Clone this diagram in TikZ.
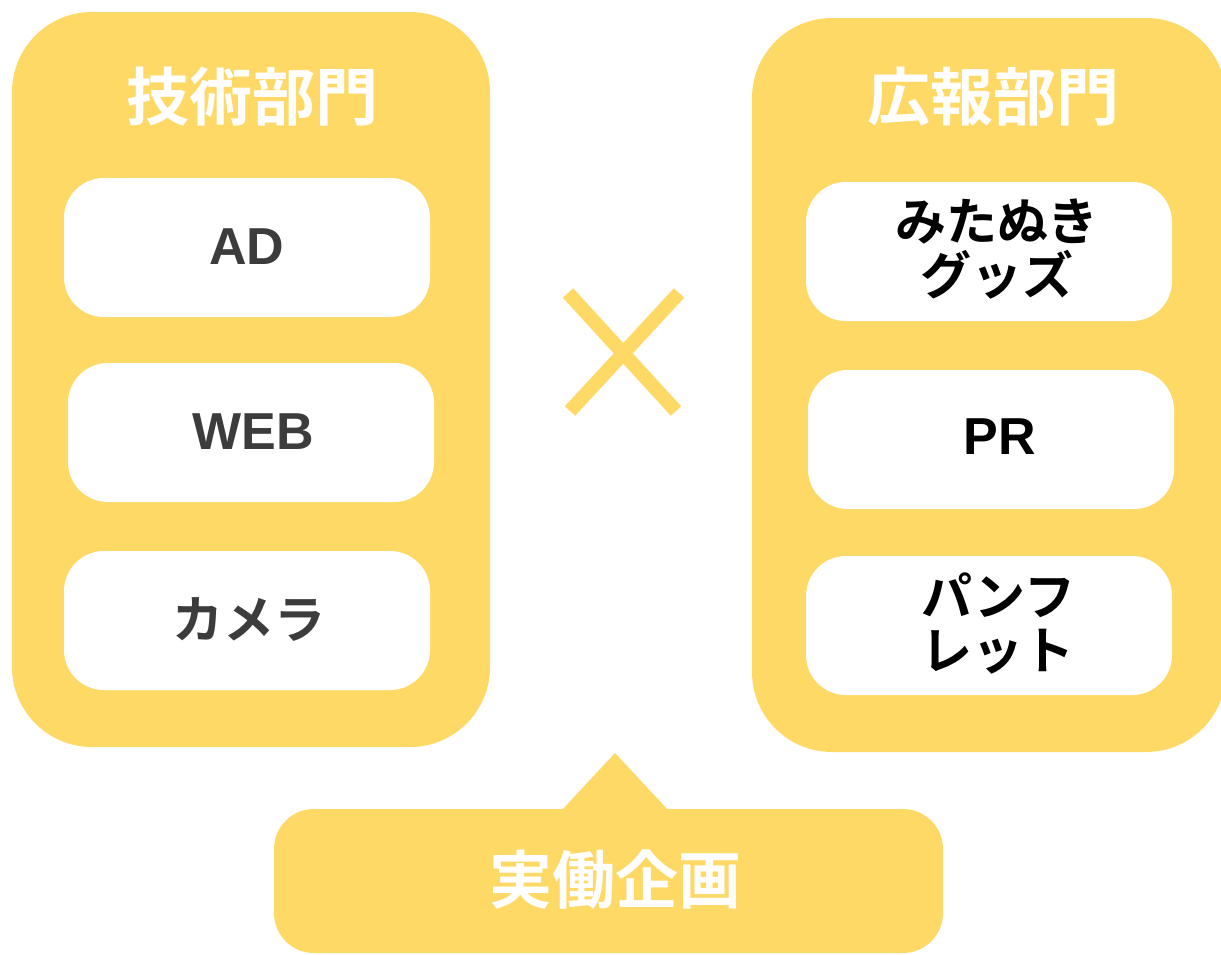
\documentclass[tikz,border=0pt]{standalone}
\usepackage{fontspec}
\setmainfont{Liberation Sans}
\newfontfamily\jp{Noto Sans CJK JP}[UprightFont=* Medium,BoldFont=* Bold]
\definecolor{BKzuta}{HTML}{FFD966}
\definecolor{BKsiva}{HTML}{3C3C3C}

\begin{document}
\begin{tikzpicture}[x=1pt,y=-1pt,font=\fontsize{52}{56}\selectfont\bfseries,
  naslov/.style={white,inner sep=0pt,font=\jp\fontsize{63}{66}\selectfont\bfseries},
  stavka/.style={inner sep=0pt,align=center,font=\jp\fontsize{51}{54}\selectfont\bfseries}]
\useasboundingbox (0,0) rectangle (1221,954);
\fill[BKzuta,rounded corners=80pt] (12,12) rectangle (490,747);
\fill[BKzuta,rounded corners=80pt] (752,18) rectangle (1226,752);
\fill[BKzuta,rounded corners=40pt] (274,809) rectangle (943,953);
\fill[BKzuta] (561,811)--(615,753)--(669,811)--cycle;
\draw[BKzuta,line width=14pt] (568,293)--(676,411) (679,293)--(570,411);
\foreach \x/\y in {64/178,68/363,64/551,806/182,808/370,806/556}{
 \fill[white,rounded corners=40pt] (\x,\y) rectangle ++(366,139);
}
\node[naslov] (tehnika) at (252,97) {技術部門};
\node[naslov] (odnosi) at (993,97) {広報部門};
\node[naslov] (projekt) at (615,880) {実働企画};
\node[BKsiva,inner sep=0pt] (ad) at (247,247) {AD};
\node[BKsiva,inner sep=0pt] (web) at (253,432) {WEB};
\node[stavka,BKsiva] (kamera) at (249,620) {カメラ};
\node[stavka] (roba) at (997,249) {みたぬき\\グッズ};
\node[inner sep=0pt] (pr) at (1000,437) {PR};
\node[stavka] (letak) at (998,623) {パンフ\\レット};
\end{tikzpicture}
\end{document}
